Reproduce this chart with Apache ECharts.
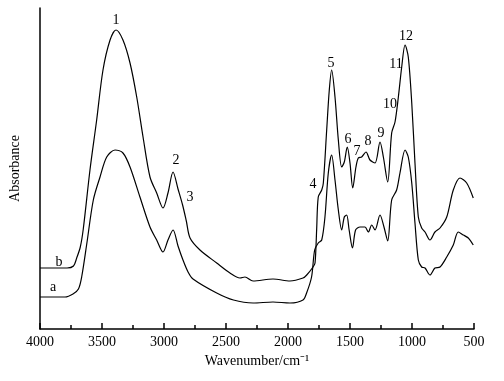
<!DOCTYPE html>
<html>
<head>
<meta charset="utf-8">
<script src="https://cdn.jsdelivr.net/npm/echarts@6/dist/echarts.min.js"></script>
<style>
  html, body { margin: 0; padding: 0; background: #fff; }
  #chart { width: 504px; height: 381px; }
</style>
</head>
<body>
<div id="chart"></div>
<script>
// x ticks
var tickValues = [4000, 3500, 3000, 2500, 2000, 1500, 1000, 500];

// spectrum b (upper)
var waveB = [4000, 3782, 3730, 3704, 3675, 3651, 3597, 3543, 3492, 3435, 3387, 3331, 3274, 3220, 3169, 3113, 3059, 3008,
  2968, 2927, 2887, 2850, 2820, 2790, 2710, 2575, 2468, 2387, 2347, 2282, 2121, 1984, 1879, 1849, 1798, 1782,
  1769, 1756, 1728, 1715, 1688, 1667, 1648, 1621, 1594, 1567, 1546, 1522, 1500, 1478, 1452, 1433, 1406, 1371,
  1339, 1298, 1258, 1231, 1196, 1164, 1137, 1110, 1083, 1056, 1030, 1002, 976, 949, 922, 895, 855, 815, 774,
  720, 667, 613, 559, 506];
var absB = [61, 61, 63, 71, 82, 100, 159, 209, 259, 289, 299, 289, 266, 232, 192, 152, 136, 121,
  136, 157, 140, 124, 108, 91, 79, 66, 56, 51, 52, 48, 50, 48, 51, 54, 62, 66,
  99, 132, 139, 146, 199, 239, 259, 232, 189, 162, 167, 182, 166, 141, 162, 171, 172, 177,
  169, 166, 187, 172, 147, 196, 207, 232, 262, 284, 272, 226, 166, 112, 101, 97, 89, 97, 101,
  112, 139, 151, 146, 131];

// spectrum a (lower)
var waveA = [4000, 3798, 3734, 3690, 3664, 3623, 3570, 3516, 3462, 3395, 3331, 3274, 3194, 3113, 3059, 3008,
  2968, 2927, 2887, 2847, 2806, 2766, 2575, 2440, 2282, 2121, 1984, 1879, 1850, 1810, 1785, 1756, 1728,
  1702, 1675, 1648, 1621, 1594, 1567, 1546, 1527, 1507, 1480, 1455, 1419, 1379, 1352, 1325, 1298, 1258,
  1226, 1196, 1164, 1124, 1097, 1056, 1030, 1002, 976, 949, 922, 895, 855, 815, 774, 720, 667, 627, 586,
  546, 506];
var absA = [32, 32, 35, 40, 52, 85, 129, 152, 172, 179, 176, 162, 132, 102, 89, 77,
  89, 99, 83, 69, 57, 50, 36, 29, 26, 27, 26, 29, 36, 52, 79, 86, 89,
  112, 156, 174, 149, 119, 99, 112, 114, 99, 81, 99, 102, 102, 97, 104, 99, 114,
  102, 88, 129, 139, 156, 179, 172, 146, 106, 69, 62, 61, 54, 61, 62, 72, 84, 97, 94,
  91, 84];

// peak labels
var peakNames = ['1', '2', '3', '4', '5', '6', '7', '8', '9', '10', '11', '12', 'b', 'a'];
var peakWave = [3387, 2903, 2790, 1798, 1653, 1516, 1444, 1355, 1250, 1177, 1129, 1048, 3847, 3895];
var peakAbs = [309, 169, 132, 145, 266, 190, 178, 188, 196, 225, 265, 293, 67, 42];

function zip(xs, ys) {
  return xs.map(function (x, i) { return [x, ys[i]]; });
}

var FONT = '"Liberation Serif", "Times New Roman", serif';
var chart = echarts.init(document.getElementById('chart'));

var option = {
  backgroundColor: '#fff',
  animation: false,
  grid: { left: 40, right: 30, top: 8, bottom: 52, containLabel: false },
  xAxis: {
    type: 'value',
    inverse: true,
    min: 500,
    max: 4000,
    interval: 500,
    name: 'Wavenumber/cm\u207B\u00B9',
    nameLocation: 'middle',
    nameGap: 25,
    nameTextStyle: { fontFamily: FONT, fontSize: 14, color: '#000' },
    axisLine: { lineStyle: { color: '#000', width: 1.5 } },
    axisTick: { inside: true, length: 6, lineStyle: { color: '#000', width: 1.5 } },
    minorTick: { show: true, splitNumber: 2, length: 4, lineStyle: { color: '#000', width: 1.5 } },
    axisLabel: {
      margin: 6,
      fontFamily: FONT, fontSize: 14, color: '#000',
      showMinLabel: true, showMaxLabel: true,
      formatter: function (v) { return tickValues.indexOf(v) >= 0 ? String(v) : ''; }
    },
    splitLine: { show: false }
  },
  yAxis: {
    type: 'value',
    min: 0,
    max: 321,
    name: 'Absorbance',
    nameLocation: 'middle',
    nameGap: 18,
    nameRotate: 90,
    nameTextStyle: { fontFamily: FONT, fontSize: 14, color: '#000' },
    axisLine: { show: true, lineStyle: { color: '#000', width: 1.5 } },
    axisTick: { show: false },
    axisLabel: { show: false },
    splitLine: { show: false }
  },
  series: [
    {
      name: 'b', type: 'line', data: zip(waveB, absB), smooth: 0.3,
      showSymbol: false, lineStyle: { color: '#000', width: 1.2 }
    },
    {
      name: 'a', type: 'line', data: zip(waveA, absA), smooth: 0.3,
      showSymbol: false, lineStyle: { color: '#000', width: 1.2 }
    },
    {
      name: 'labels', type: 'scatter', symbolSize: 0,
      itemStyle: { opacity: 1, color: '#000' },
      data: peakWave.map(function (w, i) { return { value: [w, peakAbs[i]], name: peakNames[i] }; }),
      label: {
        show: true, position: 'inside', opacity: 1,
        formatter: function (p) { return p.name; },
        fontFamily: FONT, fontSize: 14, color: '#000'
      }
    }
  ]
};

chart.setOption(option);
</script>
</body>
</html>
